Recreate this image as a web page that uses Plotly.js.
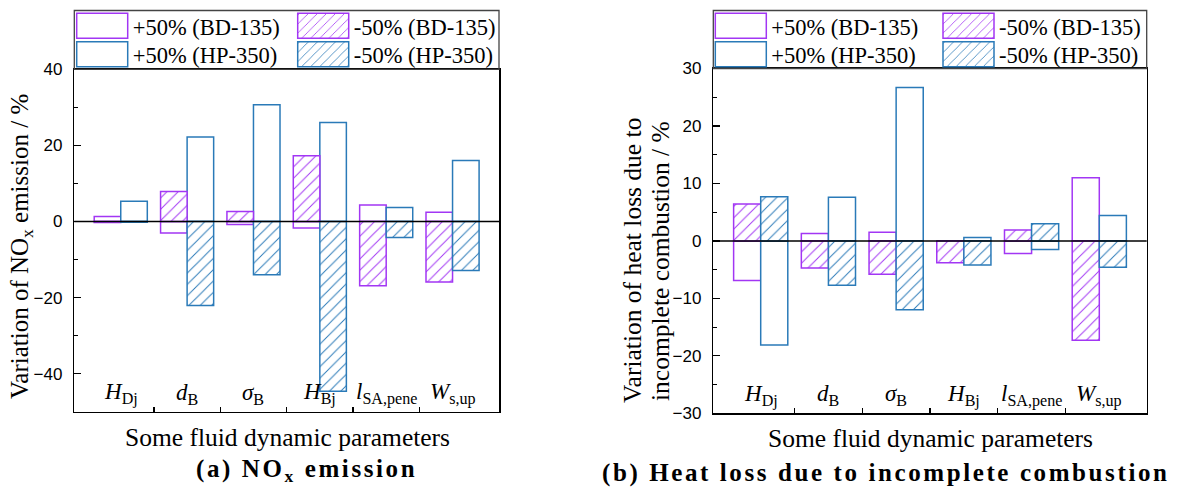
<!DOCTYPE html>
<html>
<head>
<meta charset="utf-8">
<script src="https://cdn.plot.ly/plotly-3.0.1.min.js"></script>
<style>
  html, body { margin: 0; padding: 0; background: #fff; }
  #chart { width: 1178px; height: 491px; }
</style>
</head>
<body>
<div id="chart"></div>
<script>
// Parameters on the horizontal axis
const categories = [
  '<i>H</i><sub>Dj</sub>',
  '<i>d</i><sub>B</sub>',
  '<i>σ</i><sub>B</sub>',
  '<i>H</i><sub>Bj</sub>',
  '<i>l</i><sub>SA,pene</sub>',
  '<i>W</i><sub>s,up</sub>'
];
const seriesNames = ['+50% (BD-135)', '-50% (BD-135)', '+50% (HP-350)', '-50% (HP-350)'];

// (a) Variation of NOx emission, %
const noxPlusBD   = [1.3, -3.0, -0.8, -1.7, 4.3, 2.4];
const noxMinusBD  = [-0.3, 7.9, 2.6, 17.3, -16.9, -15.9];
const noxPlusHP   = [5.3, 22.2, 30.7, 26.0, 3.7, 16.0];
const noxMinusHP  = [-0.2, -22.1, -14.0, -44.6, -4.2, -12.9];

// (b) Variation of heat loss due to incomplete combustion, %
const heatPlusBD  = [-6.9, 1.3, 1.5, 0.0, -2.2, 11.0];
const heatMinusBD = [6.4, -4.7, -5.8, -3.8, 1.9, -17.3];
const heatPlusHP  = [-18.1, 7.6, 26.7, 0.6, -1.5, 4.4];
const heatMinusHP = [7.7, -7.7, -12.0, -4.2, 3.0, -4.6];

const PURPLE = '#A236F4';
const BLUE = '#2A7AB8';
const SERIF = 'Liberation Serif';
const SANS = 'Liberation Sans';
const W = 1178, H = 491;

const xIdx = categories.map((_, i) => i);
const boundaries = categories.slice(1).map((_, i) => i + 0.5);

function barTrace(name, values, color, hatched, offset, xa, ya, legend) {
  const marker = { color: 'white', line: { color: color, width: 1.5 } };
  if (hatched) {
    marker.pattern = { shape: '/', fgcolor: color, bgcolor: 'white', size: 8, solidity: 0.12, fillmode: 'replace' };
  }
  return {
    type: 'bar', name: name, x: xIdx, y: values,
    offset: offset, width: 0.4, marker: marker,
    xaxis: xa, yaxis: ya, legend: legend, hoverinfo: 'skip'
  };
}

const traces = [
  barTrace(seriesNames[0], noxPlusBD, PURPLE, false, -0.4, 'x', 'y', 'legend'),
  barTrace(seriesNames[2], noxPlusHP, BLUE, false, 0, 'x', 'y', 'legend'),
  barTrace(seriesNames[1], noxMinusBD, PURPLE, true, -0.4, 'x', 'y', 'legend2'),
  barTrace(seriesNames[3], noxMinusHP, BLUE, true, 0, 'x', 'y', 'legend2'),
  barTrace(seriesNames[0], heatPlusBD, PURPLE, false, -0.4, 'x2', 'y2', 'legend3'),
  barTrace(seriesNames[2], heatPlusHP, BLUE, false, 0, 'x2', 'y2', 'legend3'),
  barTrace(seriesNames[1], heatMinusBD, PURPLE, true, -0.4, 'x2', 'y2', 'legend4'),
  barTrace(seriesNames[3], heatMinusHP, BLUE, true, 0, 'x2', 'y2', 'legend4')
];

// plot frames in pixels
const frameA = { l: 74.3, r: 499, t: 69.3, b: 411.7 };
const frameB = { l: 713.3, r: 1146.7, t: 68.5, b: 413.3 };
const px = v => v / W;
const py = v => 1 - v / H;

function xAxis(frame, anchor) {
  return {
    domain: [px(frame.l), px(frame.r)], anchor: anchor,
    range: [-0.7, 5.7], tickvals: boundaries, showticklabels: false,
    ticks: 'inside', ticklen: 5, tickwidth: 1.2, tickcolor: '#000',
    showline: true, mirror: true, linecolor: '#000', linewidth: 1.5,
    showgrid: false, zeroline: false, fixedrange: true
  };
}
function yAxis(frame, anchor, range, dtick) {
  return {
    domain: [py(frame.b), py(frame.t)], anchor: anchor,
    range: range, dtick: dtick, tick0: 0,
    ticks: 'inside', ticklen: 7, tickwidth: 1.2, tickcolor: '#000',
    minor: { dtick: dtick / 2, ticks: 'inside', ticklen: 4, tickwidth: 1.2, tickcolor: '#000', showgrid: false },
    tickfont: { family: SANS, size: 17, color: '#000' }, ticklabelstandoff: 7,
    showline: true, mirror: true, linecolor: '#000', linewidth: 1.5,
    showgrid: false, zeroline: false, fixedrange: true
  };
}
function legendAt(xPix) {
  return {
    orientation: 'v', x: px(xPix), xanchor: 'left', y: 1, yanchor: 'top',
    bgcolor: 'rgba(0,0,0,0)', borderwidth: 0, itemwidth: 51, tracegroupgap: 0,
    font: { family: SERIF, size: 22.5, color: '#000' }, itemclick: false, itemdoubleclick: false
  };
}

const annotations = [];
function catLabels(xref, yref) {
  categories.forEach((c, i) => annotations.push({
    x: i, xref: xref, y: 0.052, yref: yref + ' domain', text: c, showarrow: false,
    xanchor: 'center', yanchor: 'middle', font: { family: SERIF, size: 23, color: '#000' }
  }));
}
catLabels('x', 'y');
catLabels('x2', 'y2');

function note(text, x, y, size, angle) {
  annotations.push({
    x: px(x), y: py(y), xref: 'paper', yref: 'paper', text: text, showarrow: false,
    xanchor: 'center', yanchor: 'middle', textangle: angle || 0,
    font: { family: SERIF, size: size, color: '#000' }
  });
}
note('Variation of NO<sub>x</sub> emission / %', 21, 247, 25, -90);
note('Variation of heat loss due to', 632, 261, 25.5, -90);
note('incomplete combustion / %', 660, 261, 25.5, -90);
note('Some fluid dynamic parameters', 287, 437, 25.5);
note('Some fluid dynamic parameters', 930, 438, 25.5);
note('<b><span style="letter-spacing:2.6px">(a) NO<sub>x</sub> emission</span></b>', 306, 470, 25);
note('<b><span style="letter-spacing:2.6px">(b) Heat loss due to incomplete combustion</span></b>', 885.5, 473, 25);

function frameShapes(xa, ya, frame) {
  const boxTop = 1 + (frame.t - 10.5) / (frame.b - frame.t);
  return [
    { type: 'rect', xref: xa + ' domain', yref: ya + ' domain', x0: 0, x1: 1, y0: 1, y1: boxTop,
      line: { color: '#444', width: 1.3 }, fillcolor: 'rgba(0,0,0,0)', layer: 'above' },
    { type: 'line', xref: xa + ' domain', yref: ya, x0: 0, x1: 1, y0: 0, y1: 0,
      line: { color: '#000', width: 1.5 }, layer: 'above' }
  ];
}

const layout = {
  width: W, height: H, margin: { l: 0, r: 0, t: 0, b: 0 },
  paper_bgcolor: '#fff', plot_bgcolor: '#fff',
  barmode: 'overlay', showlegend: true,
  font: { family: SERIF, color: '#000' },
  xaxis: xAxis(frameA, 'y'),
  yaxis: yAxis(frameA, 'x', [-50, 40], 20),
  xaxis2: xAxis(frameB, 'y2'),
  yaxis2: yAxis(frameB, 'x2', [-30, 30], 10),
  legend: legendAt(71.7),
  legend2: legendAt(292.7),
  legend3: legendAt(710.3),
  legend4: legendAt(938),
  annotations: annotations,
  shapes: frameShapes('x', 'y', frameA).concat(frameShapes('x2', 'y2', frameB))
};

// legend row centres, in page pixels
const legendRows = [25.8, 54.2];

Plotly.newPlot('chart', traces, layout, { staticPlot: true, displayModeBar: false }).then(gd => {
  gd.querySelectorAll('g.traces').forEach(g => {
    const path = g.querySelector('.legendpoints path');
    if (!path) return;
    // wide rectangular swatches
    path.setAttribute('d', 'M25.5,12.5H-25.5V-12.5H25.5Z');
    // tighter row spacing
    const siblings = Array.from(g.parentNode.children).filter(n => n.classList.contains('traces'));
    const idx = siblings.indexOf(g);
    const m = /translate\(\s*([-\d.e]+)[,\s]+([-\d.e]+)\s*\)/.exec(g.getAttribute('transform') || '');
    if (!m || idx < 0 || idx >= legendRows.length) return;
    const r = path.getBoundingClientRect();
    const dy = legendRows[idx] - (r.top + r.height / 2);
    g.setAttribute('transform', 'translate(' + m[1] + ',' + (parseFloat(m[2]) + dy) + ')');
  });
});
</script>
</body>
</html>
